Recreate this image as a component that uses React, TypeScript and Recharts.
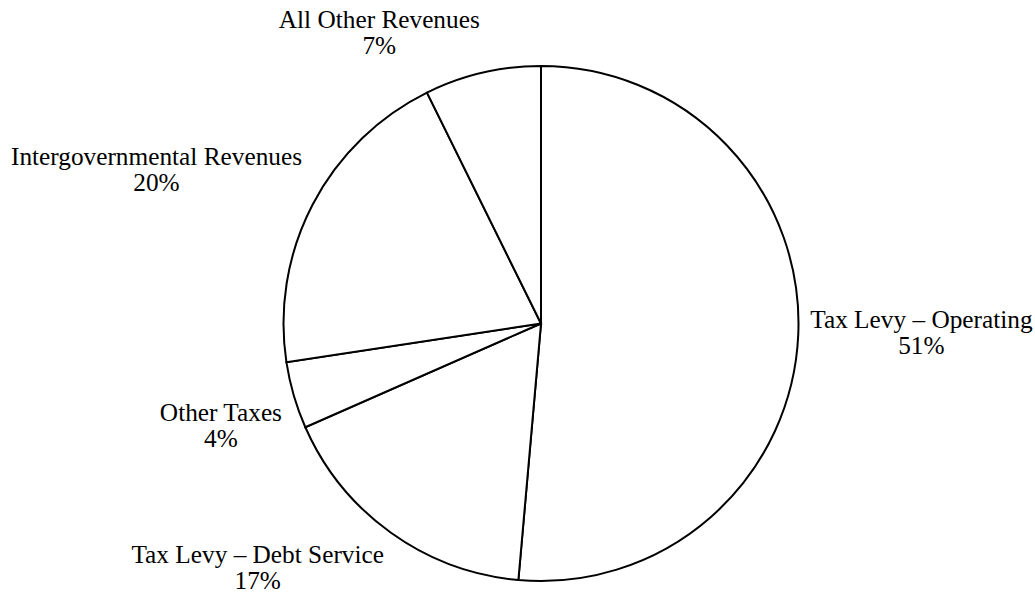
import React from 'react';
import { PieChart, Pie, Cell } from 'recharts';

const categories = [
  'Tax Levy – Operating',
  'Tax Levy – Debt Service',
  'Other Taxes',
  'Intergovernmental Revenues',
  'All Other Revenues',
];
const shares = [51.4, 17.0, 4.2, 20.1, 7.3];

const data = categories.map((name, i) => ({ name, value: shares[i] }));

const FONT = '"Liberation Serif", "Times New Roman", serif';
const FONT_SIZE = 25.3;
const LINE_GAP = 26;
const LABEL_GAP = 12;
const CAP = 0.66;
// small manual nudges mimicking the original "best fit" label placement
const labelNudgeY: Record<string, number> = {
  'Tax Levy – Operating': -4,
  'Tax Levy – Debt Service': 8,
  'Other Taxes': 21,
  'Intergovernmental Revenues': -19,
  'All Other Revenues': -8,
};

let ctx: CanvasRenderingContext2D | null = null;
function measure(t: string) {
  if (!ctx) {
    const c = document.createElement('canvas');
    ctx = c.getContext('2d');
  }
  if (!ctx) return t.length * FONT_SIZE * 0.45;
  ctx.font = `${FONT_SIZE}px ${FONT}`;
  return ctx.measureText(t).width;
}

const RAD = Math.PI / 180;

const renderLabel = (props: any) => {
  const { cx, cy, midAngle, outerRadius, name, percent } = props;
  const dx = Math.cos(midAngle * RAD);
  const dy = -Math.sin(midAngle * RAD);
  const px = cx + (outerRadius + LABEL_GAP) * dx;
  const py = cy + (outerRadius + LABEL_GAP) * dy;
  const pctText = `${Math.round(percent * 100)}%`;
  const w = Math.max(measure(name), measure(pctText));
  const h = CAP * FONT_SIZE + LINE_GAP;
  const sx = Math.abs(dx) < 0.05 ? 0 : Math.sign(dx);
  const bx = px + sx * (w / 2);
  const by = py + dy * (h / 2) + (labelNudgeY[name] || 0);
  const base1 = by - h / 2 + CAP * FONT_SIZE;
  return (
    <text
      x={bx}
      y={base1}
      textAnchor="middle"
      fontFamily={FONT}
      fontSize={FONT_SIZE}
      fill="#000"
    >
      <tspan x={bx} y={base1}>
        {name}
      </tspan>
      <tspan x={bx} y={base1 + LINE_GAP}>
        {pctText}
      </tspan>
    </text>
  );
};

export default function App() {
  return (
    <div style={{ position: 'absolute', left: 0, top: 0, background: '#fff' }}>
      <PieChart width={1035} height={596} margin={{ top: 0, right: 0, bottom: 0, left: 0 }}>
        <Pie
          data={data}
          dataKey="value"
          nameKey="name"
          cx={541}
          cy={323.5}
          outerRadius={257.5}
          startAngle={90}
          endAngle={-270}
          stroke="#000"
          strokeWidth={2}
          label={renderLabel}
          labelLine={false}
          isAnimationActive={false}
        >
          {data.map((d) => (
            <Cell key={d.name} fill="#fff" stroke="#000" strokeWidth={2} />
          ))}
        </Pie>
      </PieChart>
    </div>
  );
}
